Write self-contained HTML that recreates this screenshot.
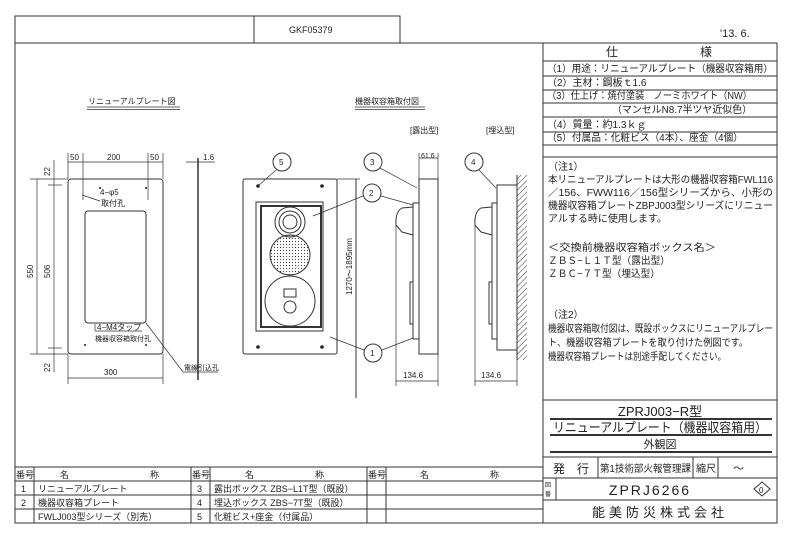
<!DOCTYPE html>
<html><head><meta charset="utf-8"><style>
html,body{margin:0;padding:0;background:#fff}
svg{display:block}
text{font-family:"Liberation Sans","Noto Sans CJK JP",sans-serif;fill:#222}
</style></head><body>
<svg width="800" height="536" viewBox="0 0 800 536" xmlns="http://www.w3.org/2000/svg">
<defs>
<pattern id="h" width="4" height="4" patternUnits="userSpaceOnUse" patternTransform="rotate(45)"><line x1="0" y1="0" x2="0" y2="4" stroke="#333" stroke-width="1"/></pattern>
<pattern id="dots" width="3" height="3" patternUnits="userSpaceOnUse"><circle cx="1.5" cy="1.5" r="0.6" fill="#444"/></pattern>
</defs>
<g fill="none" stroke="#333" stroke-width="1">
<rect x="15" y="16" width="385" height="27"/>
<line x1="254" y1="16" x2="254" y2="43"/>
<rect x="15" y="43" width="762" height="480"/>
<line x1="543" y1="43" x2="543" y2="523"/>
<line x1="543" y1="61" x2="777" y2="61"/>
<line x1="543" y1="76" x2="777" y2="76"/>
<line x1="543" y1="90" x2="777" y2="90"/>
<line x1="543" y1="103" x2="777" y2="103"/>
<line x1="543" y1="117" x2="777" y2="117"/>
<line x1="543" y1="132" x2="777" y2="132"/>
<line x1="543" y1="145" x2="777" y2="145"/>
<line x1="543" y1="157" x2="777" y2="157"/>
<line x1="543" y1="400" x2="777" y2="400"/>
<line x1="550" y1="419" x2="772" y2="419" stroke-width="2"/>
<line x1="550" y1="435" x2="772" y2="435" stroke-width="2"/>
<line x1="550" y1="452" x2="772" y2="452" stroke-width="2"/>
<line x1="543" y1="457" x2="777" y2="457"/>
<line x1="543" y1="478" x2="777" y2="478"/>
<line x1="543" y1="500" x2="777" y2="500"/>
<line x1="598" y1="457" x2="598" y2="478"/>
<line x1="693" y1="457" x2="693" y2="478"/>
<line x1="718" y1="457" x2="718" y2="478"/>
<line x1="556" y1="478" x2="556" y2="500"/>
<line x1="15" y1="467" x2="543" y2="467"/>
<line x1="15" y1="481" x2="543" y2="481"/>
<line x1="15" y1="495" x2="543" y2="495"/>
<line x1="15" y1="509" x2="543" y2="509"/>
<line x1="34" y1="467" x2="34" y2="523"/>
<line x1="191" y1="467" x2="191" y2="523"/>
<line x1="210" y1="467" x2="210" y2="523"/>
<line x1="367" y1="467" x2="367" y2="523"/>
<line x1="386" y1="467" x2="386" y2="523"/>

<line x1="87" y1="107" x2="180" y2="107" stroke-width="0.8"/><line x1="87" y1="109.5" x2="180" y2="109.5" stroke-width="0.8"/>
<rect x="68" y="179" width="95" height="175" rx="3"/>
<rect x="85" y="211" width="61" height="112" rx="3"/>
<line x1="68" y1="153" x2="68" y2="179" stroke-width="0.7"/>
<line x1="83" y1="153" x2="83" y2="200" stroke-width="0.7"/>
<line x1="148" y1="153" x2="148" y2="200" stroke-width="0.7"/>
<line x1="163" y1="153" x2="163" y2="179" stroke-width="0.7"/>
<line x1="68" y1="162" x2="163" y2="162" stroke-width="0.7"/>
<line x1="30" y1="179" x2="68" y2="179" stroke-width="0.7"/>
<line x1="30" y1="354" x2="68" y2="354" stroke-width="0.7"/>
<line x1="48" y1="185" x2="62" y2="185" stroke-width="0.7"/>
<line x1="48" y1="348" x2="62" y2="348" stroke-width="0.7"/>
<line x1="37" y1="179" x2="37" y2="354" stroke-width="0.7"/>
<line x1="54" y1="160" x2="54" y2="372" stroke-width="0.7"/>
<line x1="68" y1="354" x2="68" y2="384" stroke-width="0.7"/>
<line x1="163" y1="354" x2="163" y2="384" stroke-width="0.7"/>
<line x1="68" y1="378" x2="163" y2="378" stroke-width="0.7"/>
<line x1="198" y1="158" x2="198" y2="380" stroke-width="1.5"/>
<line x1="186" y1="162" x2="215" y2="162" stroke-width="0.7"/>
<line x1="82" y1="195" x2="100" y2="201" stroke-width="0.7"/>
<line x1="95" y1="331" x2="142" y2="331" stroke-width="0.7"/>
<line x1="95" y1="331" x2="95" y2="324" stroke-width="0.7"/>
<line x1="146" y1="323" x2="183" y2="372" stroke-width="0.7"/>
<line x1="183" y1="372" x2="218" y2="372" stroke-width="0.7"/>

<line x1="355" y1="107" x2="425" y2="107" stroke-width="0.8"/><line x1="355" y1="109.5" x2="425" y2="109.5" stroke-width="0.8"/>
<rect x="243" y="179" width="94" height="175" rx="2"/>
<rect x="256" y="202" width="67" height="129"/>
<rect x="261" y="206" width="60" height="121" stroke-width="2"/>
<circle cx="290" cy="222" r="15"/><circle cx="290" cy="222" r="11"/><circle cx="290" cy="222" r="7"/>
<circle cx="290" cy="255" r="20" fill="url(#dots)"/>
<circle cx="290" cy="301" r="25"/>
<rect x="284" y="289" width="12" height="8"/>
<circle cx="290" cy="307" r="6"/>
<line x1="356" y1="179" x2="356" y2="398"/>
<line x1="337" y1="179" x2="360" y2="179" stroke-width="0.7"/>
<circle cx="282" cy="162" r="9"/>
<line x1="276" y1="170" x2="258" y2="186" stroke-width="0.7"/>
<circle cx="372" cy="193" r="9"/>
<line x1="363" y1="196" x2="313" y2="216" stroke-width="0.7"/>
<line x1="381" y1="196" x2="413" y2="205" stroke-width="0.7"/>
<circle cx="373" cy="162" r="9"/>
<line x1="380" y1="168" x2="417" y2="188" stroke-width="0.7"/>
<circle cx="373" cy="353" r="9"/>
<line x1="364" y1="350" x2="330" y2="337" stroke-width="0.7"/>
<line x1="382" y1="350" x2="413" y2="338" stroke-width="0.7"/>
<circle cx="474" cy="162" r="9"/>
<line x1="479" y1="170" x2="496" y2="188" stroke-width="0.7"/>

<rect x="419" y="179" width="19" height="175"/>
<rect x="413" y="203" width="6" height="136"/>
<path d="M413 207 L402 208 Q395 212 396 225 L402 232 L413 235"/>
<line x1="396" y1="225" x2="396" y2="386" stroke-width="0.7"/>
<rect x="410" y="282" width="3" height="42"/>
<line x1="419" y1="153" x2="419" y2="179" stroke-width="0.7"/>
<line x1="438" y1="153" x2="438" y2="179" stroke-width="0.7"/>
<line x1="419" y1="158" x2="438" y2="158" stroke-width="0.7"/>
<line x1="438" y1="354" x2="438" y2="386" stroke-width="0.7"/>
<line x1="396" y1="381" x2="438" y2="381" stroke-width="0.7"/>

<rect x="517" y="175" width="10" height="185" fill="url(#h)" stroke="none"/>
<rect x="497" y="185" width="20" height="165"/>
<line x1="517" y1="175" x2="517" y2="360"/>
<rect x="492" y="203" width="5" height="136"/>
<path d="M492 207 L481 208 Q474 212 475 225 L481 232 L492 235"/>
<line x1="475" y1="225" x2="475" y2="386" stroke-width="0.7"/>
<rect x="489" y="282" width="3" height="42"/>
<line x1="517" y1="360" x2="517" y2="386" stroke-width="0.7"/>
<line x1="475" y1="381" x2="517" y2="381" stroke-width="0.7"/>

<path d="M762 482 L770 489 L762 496 L754 489 Z"/>
</g>
<g fill="#222">
<circle cx="100" cy="188" r="1"/><circle cx="146" cy="188" r="1"/><circle cx="85" cy="345" r="1"/><circle cx="146" cy="345" r="1"/>
<circle cx="258" cy="186" r="1.8"/><circle cx="322" cy="186" r="1.8"/><circle cx="258" cy="347" r="1.8"/><circle cx="322" cy="347" r="1.8"/>
</g>

<text x="289" y="33" font-size="9" fill="#555">GKF05379</text>
<text x="720" y="37" font-size="11">'13. 6.</text>
<text x="606" y="56" font-size="12">仕</text><text x="700" y="56" font-size="12">様</text>
<g font-size="10">
<text x="547" y="72" textLength="226" lengthAdjust="spacingAndGlyphs">（1）用途：リニューアルプレート（機器収容箱用）</text>
<text x="547" y="86">（2）主材：鋼板ｔ1.6</text>
<text x="547" y="99" textLength="205" lengthAdjust="spacingAndGlyphs">（3）仕上げ：焼付塗装　ノーミホワイト（NW）</text>
<text x="612" y="113" textLength="140" lengthAdjust="spacingAndGlyphs">（マンセルN8.7半ツヤ近似色）</text>
<text x="547" y="128">（4）質量：約1.3ｋｇ</text>
<text x="547" y="141" textLength="196" lengthAdjust="spacingAndGlyphs">（5）付属品：化粧ビス（4本）、座金（4個）</text>
<text x="548" y="170">（注1）</text>
<text x="548" y="183" textLength="225" lengthAdjust="spacingAndGlyphs">本リニューアルプレートは大形の機器収容箱FWL116</text>
<text x="548" y="196" textLength="225" lengthAdjust="spacingAndGlyphs">／156、FWW116／156型シリーズから、小形の</text>
<text x="548" y="209" textLength="225" lengthAdjust="spacingAndGlyphs">機器収容箱プレートZBPJ003型シリーズにリニュー</text>
<text x="548" y="222">アルする時に使用します。</text>
<text x="548" y="251" textLength="168" lengthAdjust="spacingAndGlyphs">＜交換前機器収容箱ボックス名＞</text>
<text x="548" y="264" textLength="122" lengthAdjust="spacingAndGlyphs">ＺＢＳ−Ｌ１Ｔ型（露出型）</text>
<text x="548" y="277" textLength="112" lengthAdjust="spacingAndGlyphs">ＺＢＣ−７Ｔ型（埋込型）</text>
<text x="548" y="318">（注2）</text>
<text x="548" y="332" textLength="225" lengthAdjust="spacingAndGlyphs">機器収容箱取付図は、既設ボックスにリニューアルプレー</text>
<text x="548" y="346" textLength="200" lengthAdjust="spacingAndGlyphs">ト、機器収容箱プレートを取り付けた例図です。</text>
<text x="548" y="360" textLength="178" lengthAdjust="spacingAndGlyphs">機器収容箱プレートは別途手配してください。</text>
</g>
<text x="660" y="416" font-size="13" text-anchor="middle">ZPRJ003−R型</text>
<text x="660" y="432" font-size="13" text-anchor="middle" textLength="214" lengthAdjust="spacingAndGlyphs">リニューアルプレート（機器収容箱用）</text>
<text x="660" y="448" font-size="11" text-anchor="middle">外観図</text>
<text x="553" y="473" font-size="12">発　行</text>
<text x="600" y="472" font-size="10" textLength="91" lengthAdjust="spacingAndGlyphs">第1技術部火報管理課</text>
<text x="696" y="472" font-size="10">縮尺</text>
<text x="733" y="472" font-size="11">〜</text>
<text x="545" y="487" font-size="6">図</text><text x="545" y="496" font-size="6">番</text>
<text x="650" y="495" font-size="14" text-anchor="middle" letter-spacing="2">ZPRJ6266</text>
<text x="759" y="493" font-size="8">0</text>
<text x="660" y="517" font-size="13" text-anchor="middle" letter-spacing="4">能美防災株式会社</text>

<g font-size="9">
<text x="16" y="478">番号</text><text x="60" y="478">名</text><text x="150" y="478">称</text>
<text x="192" y="478">番号</text><text x="245" y="478">名</text><text x="315" y="478">称</text>
<text x="368" y="478">番号</text><text x="420" y="478">名</text><text x="490" y="478">称</text>
<text x="21" y="492">1</text><text x="38" y="492">リニューアルプレート</text>
<text x="21" y="506">2</text><text x="38" y="506">機器収容箱プレート</text>
<text x="38" y="520">FWLJ003型シリーズ（別売）</text>
<text x="197" y="492">3</text><text x="214" y="492">露出ボックス ZBS−L1T型（既設）</text>
<text x="197" y="506">4</text><text x="214" y="506">埋込ボックス ZBS−7T型（既設）</text>
<text x="197" y="520">5</text><text x="214" y="520">化粧ビス+座金（付属品）</text>
</g>

<g font-size="8">
<text x="88" y="104">リニューアルプレート図</text>
<text x="355" y="104">機器収容箱取付図</text>
<text x="410" y="133">[露出型]</text>
<text x="486" y="133">[埋込型]</text>
<text x="70" y="160">50</text><text x="107" y="160">200</text><text x="150" y="160">50</text>
<text x="203" y="160">1.6</text>
<text x="100" y="195">4−φ5</text><text x="101" y="206">取付孔</text>
<text x="97" y="330">4−M4タップ</text><text x="95" y="341" font-size="7">機器収容箱取付孔</text>
<text x="184" y="370" font-size="7">電線引込孔</text>
<text x="104" y="375">300</text>
<text x="421" y="158" font-size="7">61.6</text>
<text x="403" y="378">134.6</text>
<text x="481" y="378">134.6</text>
<text x="279" y="165">5</text><text x="369" y="196">2</text><text x="370" y="165">3</text><text x="370" y="356">1</text><text x="471" y="165">4</text>
</g>
<g font-size="8">
<text transform="translate(33,278) rotate(-90)">550</text>
<text transform="translate(50,278) rotate(-90)">506</text>
<text transform="translate(50,176) rotate(-90)">22</text>
<text transform="translate(50,372) rotate(-90)">22</text>
<text transform="translate(352,295) rotate(-90)">1270〜1895mm</text>
</g>
</svg>
</body></html>
